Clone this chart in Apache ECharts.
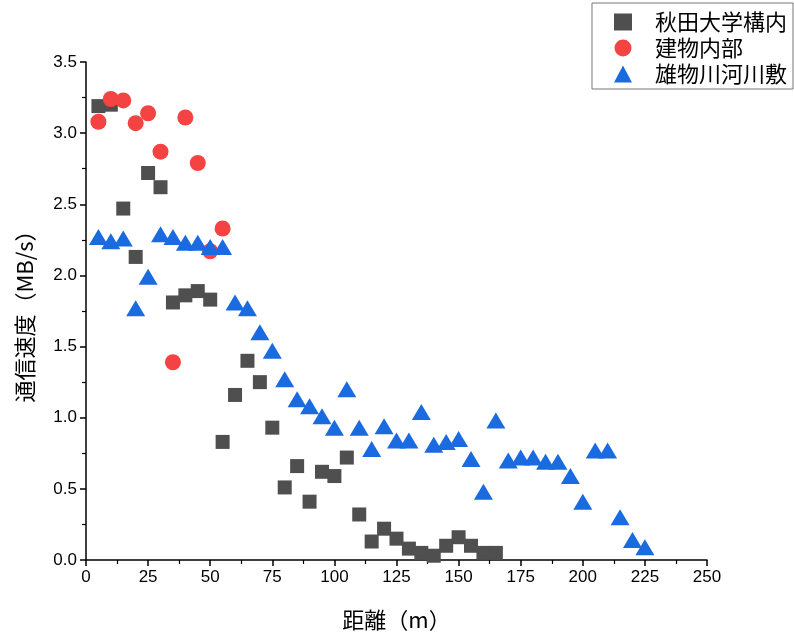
<!DOCTYPE html>
<html>
<head>
<meta charset="utf-8">
<script src="https://cdn.jsdelivr.net/npm/echarts@6/dist/echarts.min.js"></script>
<style>
  html, body { margin: 0; padding: 0; background: #fff; }
  #chart { width: 794px; height: 636px; }
</style>
</head>
<body>
<div id="chart"></div>
<script>
// Distance (m) vs. transfer speed (MB/s) at three sites
const campusX = [5, 10, 15, 20, 25, 30, 35, 40, 45, 50, 55, 60, 65, 70, 75, 80, 85, 90, 95, 100,
                 105, 110, 115, 120, 125, 130, 135, 140, 145, 150, 155, 160, 165];
const campusY = [3.19, 3.20, 2.47, 2.13, 2.72, 2.62, 1.81, 1.86, 1.89, 1.83, 0.83, 1.16, 1.40, 1.25, 0.93,
                 0.51, 0.66, 0.41, 0.62, 0.59, 0.72, 0.32, 0.13, 0.22, 0.15, 0.08, 0.05, 0.03, 0.10,
                 0.16, 0.10, 0.05, 0.05];

const indoorX = [5, 10, 15, 20, 25, 30, 35, 40, 45, 50, 55];
const indoorY = [3.08, 3.24, 3.23, 3.07, 3.14, 2.87, 1.39, 3.11, 2.79, 2.17, 2.33];

const riverX = [5, 10, 15, 20, 25, 30, 35, 40, 45, 50, 55, 60, 65, 70, 75, 80, 85, 90, 95, 100,
                105, 110, 115, 120, 125, 130, 135, 140, 145, 150, 155, 160, 165, 170, 175, 180,
                185, 190, 195, 200, 205, 210, 215, 220, 225];
const riverY = [2.27, 2.24, 2.26, 1.77, 1.99, 2.29, 2.27, 2.23, 2.23, 2.20, 2.20, 1.81, 1.77, 1.60, 1.47,
                1.27, 1.13, 1.08, 1.01, 0.93, 1.20, 0.93, 0.78, 0.94, 0.84, 0.84, 1.04, 0.81, 0.83,
                0.85, 0.71, 0.48, 0.98, 0.70, 0.72, 0.72, 0.69, 0.69, 0.59, 0.41, 0.77, 0.77, 0.30,
                0.14, 0.09];

const seriesNames = ['秋田大学構内', '建物内部', '雄物川河川敷'];
const xTitle = '距離（m）';
const yTitle = '通信速度（MB/s）';

const zip = (xs, ys) => xs.map((x, i) => [x, ys[i]]);

const cjk = '"Noto Sans CJK JP", "Noto Sans", sans-serif';
const latin = '"Liberation Sans", Arial, sans-serif';

const axisCommon = {
  axisLine: { show: true, onZero: false, lineStyle: { color: '#000', width: 1.5 } },
  axisTick: { show: true, inside: false, length: 6, lineStyle: { color: '#000', width: 1.5 } },
  minorTick: { show: true, splitNumber: 2, length: 4, lineStyle: { color: '#000', width: 1.2 } },
  splitLine: { show: false },
  axisLabel: { color: '#000', fontSize: 17, fontFamily: latin, margin: 9 },
  nameTextStyle: { color: '#000', fontSize: 22, fontFamily: cjk }
};

const chart = echarts.init(document.getElementById('chart'), null, { renderer: 'canvas' });
chart.setOption({
  animation: false,
  backgroundColor: '#fff',
  grid: { left: 86, right: 87, top: 62, bottom: 75, containLabel: false },
  xAxis: Object.assign({}, axisCommon, {
    type: 'value', min: 0, max: 250, interval: 25,
    name: xTitle, nameLocation: 'middle', nameGap: 49
  }),
  yAxis: Object.assign({}, axisCommon, {
    type: 'value', min: 0, max: 3.5, interval: 0.5,
    name: yTitle, nameLocation: 'middle', nameGap: 50,
    axisLabel: Object.assign({}, axisCommon.axisLabel, { formatter: v => v.toFixed(1) })
  }),
  legend: {
    orient: 'vertical', right: 1, top: 3,
    borderColor: '#777', borderWidth: 1, borderRadius: 0,
    padding: [8, 6, 4, 22], itemGap: 4,
    itemWidth: 18, itemHeight: 17,
    textStyle: { fontSize: 22, fontFamily: cjk, color: '#000', padding: [0, 0, 0, 18] },
    data: [
      { name: seriesNames[0], icon: 'rect' },
      { name: seriesNames[1], icon: 'circle' },
      { name: seriesNames[2], icon: 'triangle' }
    ]
  },
  series: [
    {
      name: seriesNames[0], type: 'scatter', symbol: 'rect', symbolSize: 14,
      itemStyle: { color: '#4f4f4f', opacity: 1 },
      data: zip(campusX, campusY), z: 2
    },
    {
      name: seriesNames[1], type: 'scatter', symbol: 'circle', symbolSize: 16,
      itemStyle: { color: '#f54242', opacity: 1 },
      data: zip(indoorX, indoorY), z: 3
    },
    {
      name: seriesNames[2], type: 'scatter', symbol: 'triangle', symbolSize: [19, 16],
      itemStyle: { color: '#1a6ae0', opacity: 1 },
      data: zip(riverX, riverY), z: 4
    }
  ]
});
</script>
</body>
</html>
